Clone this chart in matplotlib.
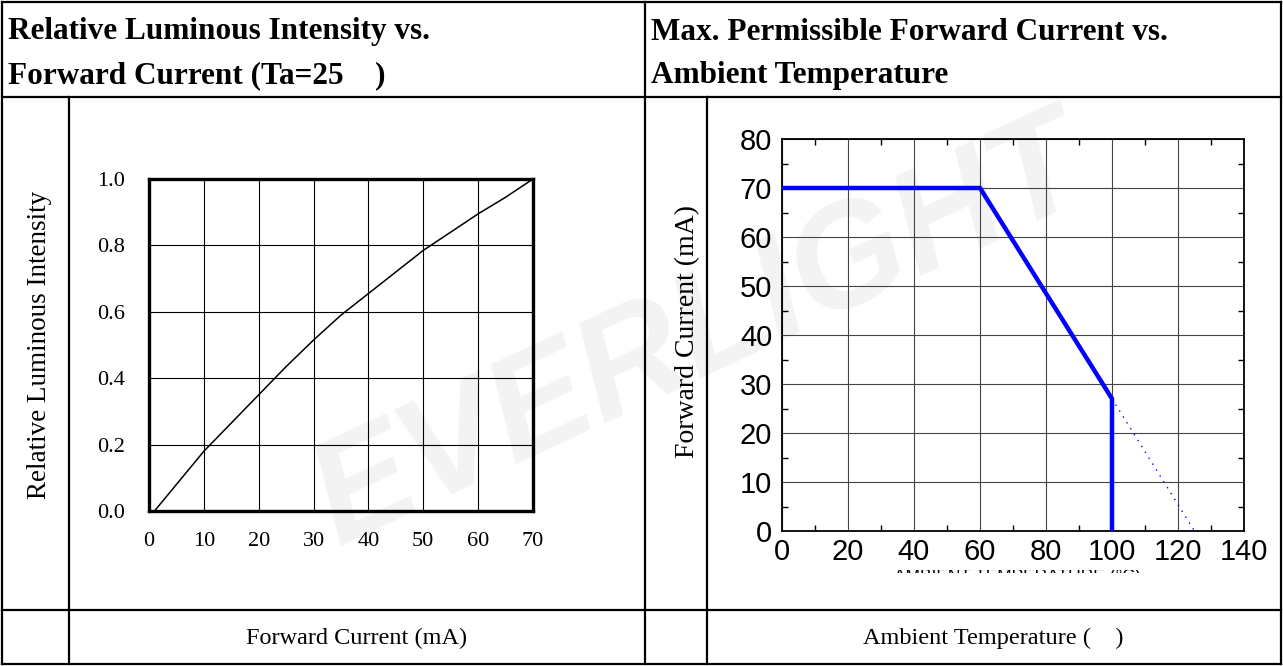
import matplotlib
matplotlib.use("Agg")
from matplotlib import pyplot as plt
from matplotlib.transforms import Bbox, TransformedBbox
from matplotlib.ticker import MultipleLocator

# --- data ---
current_ma = [1, 5, 10, 15, 20, 25, 30, 35, 40, 45, 50, 55, 60, 65, 70]
rel_intensity = [0.0, 0.08, 0.18, 0.265, 0.35, 0.435, 0.515, 0.59, 0.655,
                 0.72, 0.785, 0.84, 0.895, 0.945, 1.0]

derate_temp = [0, 60, 100, 100]
derate_current = [70, 70, 27, 0]
extend_temp = [100, 125]
extend_current = [27, 0]

left_title = ["Relative Luminous Intensity vs.", "Forward Current (Ta=25    )"]
right_title = ["Max. Permissible Forward Current vs.", "Ambient Temperature"]

SERIF = "Liberation Serif"
SANS = "Liberation Sans"
W, H = 1283, 666

fig = plt.figure(figsize=(W / 100, H / 100), dpi=100)

# background "table" layer in pixel coordinates
bg = fig.add_axes([0, 0, 1, 1], zorder=-5)
bg.set_xlim(0, W)
bg.set_ylim(H, 0)
bg.axis("off")

# faint watermark
bg.text(700, 335, "EVERLIGHT", rotation=25, ha="center", va="center",
        fontsize=105, fontweight="bold", fontstyle="italic",
        color="#f3f3f3", family=SANS, zorder=0)

lw_tab = 1.6
for x0, y0, x1, y1 in [(2, 2, W - 2, 2), (2, H - 2, W - 2, H - 2),
                       (2, 2, 2, H - 2), (W - 2, 2, W - 2, H - 2),
                       (2, 97, W - 2, 97), (2, 610, W - 2, 610),
                       (645, 2, 645, H - 2), (69, 97, 69, H - 2),
                       (707, 97, 707, H - 2)]:
    bg.plot([x0, x1], [y0, y1], color="black", lw=lw_tab,
            solid_capstyle="projecting", zorder=2)

for i, line in enumerate(left_title):
    bg.text(8, 32 + 44 * i, line, ha="left", va="center", family=SERIF,
            fontweight="bold", fontsize=22.5)
for i, line in enumerate(right_title):
    bg.text(651, 32 + 44 * i, line, ha="left", va="center", family=SERIF,
            fontweight="bold", fontsize=22.5)
bg.text(357, 638, "Forward Current (mA)", ha="center", va="center",
        family=SERIF, fontsize=17.5)
bg.text(993, 638, "Ambient Temperature (    )", ha="center", va="center",
        family=SERIF, fontsize=17.5)
bg.text(40, 345, "Relative Luminous Intensity", rotation=90, ha="center",
        va="center", family=SERIF, fontsize=19.5)
bg.text(688, 332, "Forward Current (mA)", rotation=90, ha="center",
        va="center", family=SERIF, fontsize=20)

# clipped leftover caption under the right x axis
cap = bg.text(1017, 569, "AMBIENT TEMPERATURE (\u00b0C)", ha="center",
              va="top", family=SANS, fontsize=12.5)
cap.set_clip_on(True)
cap.set_clip_box(TransformedBbox(Bbox.from_extents(0, (H - 573) / H, 1, (H - 570) / H),
                                 fig.transFigure))

# --- left chart ---
ax1 = fig.add_axes([149 / W, (H - 511) / H, 384 / W, 332 / H])
ax1.patch.set_alpha(0)
ax1.plot(current_ma, rel_intensity, color="black", lw=1.1, zorder=3)
ax1.set_xlim(0, 70)
ax1.set_ylim(0, 1.0)
ax1.set_xticks(range(0, 71, 10))
ax1.set_yticks([0.0, 0.2, 0.4, 0.6, 0.8, 1.0])
ax1.set_yticklabels(["0.0", "0.2", "0.4", "0.6", "0.8", "1.0"])
ax1.grid(True, color="black", lw=0.8)
ax1.tick_params(length=0, labelsize=16)
ax1.tick_params(axis="x", pad=15)
ax1.tick_params(axis="y", pad=17)
for lab in ax1.get_xticklabels() + ax1.get_yticklabels():
    lab.set_family(SERIF)
for sp in ax1.spines.values():
    sp.set_linewidth(2.4)

# --- right chart ---
ax2 = fig.add_axes([782 / W, (H - 531) / H, 462 / W, 392 / H])
ax2.patch.set_alpha(0)
ax2.plot(derate_temp, derate_current, color="#0000ff", lw=3.2, zorder=3,
         solid_joinstyle="miter")
ax2.plot(extend_temp, extend_current, color="#0000ff", lw=1.0, ls=(0, (1, 4)),
         zorder=3)
ax2.set_xlim(0, 140)
ax2.set_ylim(0, 80)
ax2.xaxis.set_major_locator(MultipleLocator(20))
ax2.xaxis.set_minor_locator(MultipleLocator(10))
ax2.yaxis.set_major_locator(MultipleLocator(10))
ax2.yaxis.set_minor_locator(MultipleLocator(5))
ax2.grid(True, which="major", color="#444444", lw=0.8)
ax2.tick_params(which="major", length=0, labelsize=21)
ax2.tick_params(axis="x", which="major", pad=5)
ax2.tick_params(axis="y", which="major", pad=7)
ax2.tick_params(which="minor", direction="in", length=4, width=1,
                top=True, right=True)
for lab in ax2.get_xticklabels() + ax2.get_yticklabels():
    lab.set_family(SANS)
for sp in ax2.spines.values():
    sp.set_linewidth(1.3)

fig.savefig("out.png", dpi=100)
